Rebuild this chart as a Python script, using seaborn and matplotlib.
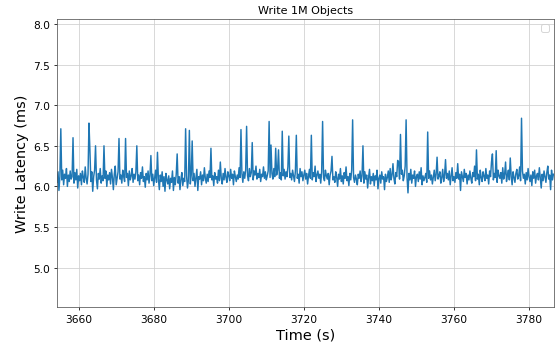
import numpy as np
import pandas as pd
import seaborn as sns
import matplotlib.pyplot as plt

# write latency samples, one every 0.25 s starting at t0
t0 = 3654.25
step = 0.25
latency = [
    6.05, 6.18, 5.95, 6.12, 6.71, 6.08, 6.20, 6.02,
    6.15, 6.10, 6.22, 6.00, 6.14, 6.06, 6.19, 6.09,
    6.12, 6.60, 6.04, 6.17, 6.08, 6.21, 5.98, 6.13,
    6.07, 6.16, 6.02, 6.19, 6.11, 6.05, 6.24, 6.10,
    6.03, 6.15, 6.78, 6.45, 6.06, 6.18, 5.94, 6.12,
    6.20, 6.50, 6.08, 5.97, 6.16, 6.09, 6.22, 6.04,
    6.13, 6.07, 6.50, 6.10, 6.19, 6.00, 6.14, 6.08,
    6.17, 6.03, 6.21, 6.11, 5.96, 6.15, 6.25, 6.02,
    6.10, 6.18, 6.59, 6.09, 6.14, 6.04, 6.20, 6.12,
    6.06, 6.59, 6.11, 6.16, 6.01, 6.19, 6.08, 6.13,
    6.22, 6.05, 6.15, 6.09, 6.18, 6.50, 6.07, 6.14,
    6.02, 6.17, 6.10, 6.24, 6.06, 6.12, 5.99, 6.16,
    6.08, 6.19, 6.04, 6.13, 6.38, 6.07, 6.15, 6.01,
    6.11, 6.20, 6.05, 6.42, 6.09, 5.96, 6.14, 6.06,
    6.18, 6.00, 6.12, 5.94, 6.16, 6.08, 6.03, 6.13,
    5.97, 6.10, 6.05, 6.19, 5.95, 6.11, 6.02, 6.15,
    6.40, 6.04, 6.12, 5.96, 6.09, 6.17, 6.01, 6.10,
    6.06, 6.71, 6.13, 5.98, 6.08, 6.69, 6.03, 6.14,
    6.56, 6.07, 6.16, 6.00, 6.11, 6.21, 5.95, 6.12,
    6.09, 6.18, 6.02, 6.14, 6.07, 6.23, 6.10, 6.04,
    6.15, 6.06, 6.19, 6.11, 6.47, 6.08, 6.13, 6.01,
    6.17, 6.09, 6.12, 6.04, 6.20, 6.07, 6.30, 6.10,
    6.03, 6.16, 6.08, 6.22, 6.11, 6.05, 6.18, 6.13,
    6.07, 6.21, 6.10, 6.15, 6.02, 6.19, 6.12, 6.06,
    6.14, 6.09, 6.23, 6.11, 6.70, 6.16, 6.05, 6.18,
    6.10, 6.20, 6.74, 6.13, 6.07, 6.22, 6.12, 6.17,
    6.54, 6.08, 6.19, 6.14, 6.25, 6.09, 6.16, 6.11,
    6.21, 6.06, 6.15, 6.12, 6.24, 6.10, 6.18, 6.08,
    6.13, 6.19, 6.80, 6.11, 6.51, 6.16, 6.09, 6.22,
    6.12, 6.47, 6.14, 6.20, 6.45, 6.10, 6.17, 6.08,
    6.68, 6.13, 6.21, 6.09, 6.18, 6.12, 6.24, 6.62,
    6.11, 6.16, 6.08, 6.20, 6.13, 6.06, 6.19, 6.63,
    6.10, 6.15, 6.04, 6.22, 6.12, 6.18, 6.07, 6.14,
    6.20, 6.09, 6.16, 6.03, 6.13, 6.21, 6.10, 6.63,
    6.08, 6.17, 6.12, 6.25, 6.06, 6.14, 6.19, 6.10,
    6.15, 6.04, 6.18, 6.80, 6.11, 6.07, 6.20, 6.13,
    6.09, 6.16, 6.02, 6.14, 6.19, 6.37, 6.08, 6.12,
    6.05, 6.18, 6.11, 6.00, 6.15, 6.09, 6.22, 6.06,
    6.13, 6.03, 6.17, 6.10, 6.24, 6.07, 6.12, 6.01,
    6.16, 6.08, 6.20, 6.82, 6.11, 6.05, 6.14, 6.09,
    6.02, 6.15, 6.10, 6.19, 6.06, 6.13, 6.50, 6.04,
    6.18, 6.09, 6.14, 5.98, 6.11, 6.21, 6.03, 6.12,
    6.07, 6.16, 6.01, 6.13, 6.08, 6.20, 5.97, 6.10,
    6.14, 6.04, 6.18, 6.09, 6.12, 5.96, 6.15, 6.06,
    6.11, 6.19, 6.05, 6.22, 6.08, 6.14, 6.28, 6.10,
    6.03, 6.17, 6.12, 6.32, 6.30, 6.09, 6.64, 6.15,
    6.20, 6.07, 6.13, 6.25, 6.82, 6.11, 5.92, 6.16,
    6.08, 6.21, 6.04, 6.14, 6.10, 6.19, 6.00, 6.12,
    6.15, 6.06, 6.18, 6.09, 6.23, 6.02, 6.13, 6.07,
    6.11, 6.16, 6.05, 6.67, 6.10, 6.19, 6.08, 6.14,
    6.03, 6.12, 6.20, 6.07, 6.15, 6.36, 6.09, 6.13,
    6.18, 6.04, 6.11, 6.21, 6.06, 6.14, 6.33, 6.10,
    6.16, 6.08, 6.19, 6.02, 6.13, 6.23, 6.07, 6.12,
    6.05, 6.17, 6.10, 6.28, 6.09, 6.15, 5.95, 6.18,
    6.12, 6.06, 6.21, 6.11, 6.16, 6.03, 6.14, 6.08,
    6.19, 6.10, 6.04, 6.17, 6.12, 6.25, 6.07, 6.45,
    6.09, 6.15, 6.02, 6.20, 6.11, 6.06, 6.18, 6.13,
    6.07, 6.22, 6.10, 6.14, 6.03, 6.19, 6.12, 6.30,
    6.40, 6.08, 6.16, 6.11, 6.44, 6.05, 6.20, 6.13,
    6.10, 6.17, 6.04, 6.23, 6.09, 6.15, 6.30, 6.06,
    6.14, 6.20, 6.08, 6.35, 6.12, 6.02, 6.18, 6.11,
    6.05, 6.16, 6.21, 6.09, 6.13, 6.24, 6.07, 6.84,
    6.19, 6.10, 6.15, 6.03, 6.17, 6.08, 6.22, 6.12,
    6.06, 6.14, 6.01, 6.18, 6.10, 6.20, 6.04, 6.13,
    6.16, 6.08, 6.23, 6.11, 5.98, 6.15, 6.07, 6.19,
    6.12, 6.05, 6.17, 6.25, 6.09, 6.14, 5.96, 6.20,
    6.08, 6.15,
]

df = pd.DataFrame({"time": t0 + step * np.arange(len(latency)), "latency": latency})

fig, ax = plt.subplots(figsize=(8, 4.96), dpi=69.75)
sns.lineplot(data=df, x="time", y="latency", ax=ax, color="#1f77b4", linewidth=1.5)
ax.grid(True, color="#cfcfcf", linewidth=0.8)
for sp in ax.spines.values():
    sp.set_color("#555555")
ax.set_xlim(3654.15, 3786.65)
ax.set_ylim(4.514, 8.062)
ax.tick_params(labelsize=11)
ax.set_title("Write 1M Objects", fontsize=11.5)
ax.set_xlabel("Time (s)", fontsize=15)
ax.set_ylabel("Write Latency (ms)", fontsize=15)
ax.legend()
plt.subplots_adjust(left=0.1016, right=0.9928, bottom=0.1098, top=0.9422)
plt.savefig("out.png", dpi=69.75)
